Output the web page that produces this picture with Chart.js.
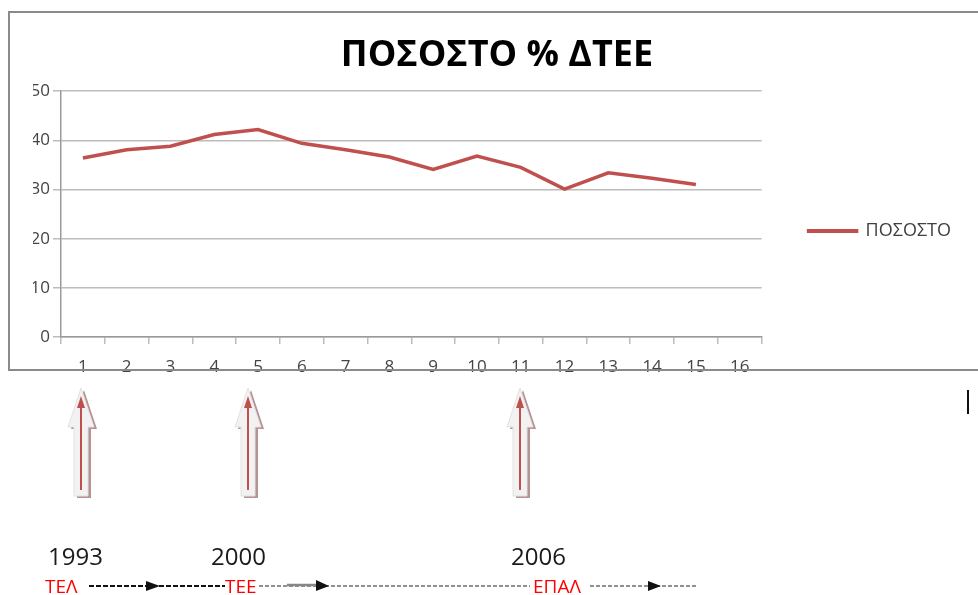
<!DOCTYPE html>
<html>
<head>
<meta charset="utf-8">
<script src="https://cdn.jsdelivr.net/npm/chart.js"></script>
<style>
  html, body { margin: 0; padding: 0; background: #fff; overflow: hidden; }
  body { width: 978px; height: 595px; position: relative; font-family: "Open Sans", sans-serif; }
  .frame {
    position: absolute; left: 8px; top: 11px; width: 980px; height: 360px; z-index: 2;
    border: 2px solid #8a8a8a; border-right: none; box-sizing: border-box; pointer-events: none;
  }
  .chart-box { position: absolute; left: 10px; top: 13px; width: 970px; height: 361px; }
  .year { position: absolute; top: 539px; font-size: 24px; color: #1a1a1a; }
  .school { position: absolute; top: 573px; font-size: 19px; color: #ff0000; }
  svg.notes { position: absolute; left: 0; top: 0; }
</style>
</head>
<body>
<div class="chart-box"><canvas id="lineChart"></canvas></div>
<div class="frame"></div>

<svg class="notes" width="978" height="595">
  <g id="arrows"></g>
  <!-- γραμμή χρόνου -->
  <line x1="89" y1="586" x2="225" y2="586" stroke="#111" stroke-width="2.2" stroke-dasharray="5 2"/>
  <polygon points="146,581 160,586 146,591" fill="#111"/>
  <line x1="259" y1="586" x2="530" y2="586" stroke="#222" stroke-width="1" stroke-dasharray="4 2"/>
  <line x1="287" y1="585" x2="318" y2="585" stroke="#888" stroke-width="2.5"/>
  <polygon points="316,580 329,586 316,591" fill="#111"/>
  <line x1="590" y1="586" x2="698" y2="586" stroke="#222" stroke-width="1" stroke-dasharray="4 2"/>
  <polygon points="648,581 661,586 648,591" fill="#111"/>
  <line x1="968" y1="390" x2="968" y2="414" stroke="#111" stroke-width="2"/>
</svg>

<div class="year" style="left:48px">1993</div>
<div class="year" style="left:211px">2000</div>
<div class="year" style="left:511px">2006</div>
<div class="school" style="left:45px">ΤΕΛ</div>
<div class="school" style="left:225px">ΤΕΕ</div>
<div class="school" style="left:533px">ΕΠΑΛ</div>

<script>
// δεδομένα
const labels = ['1', '2', '3', '4', '5', '6', '7', '8', '9', '10', '11', '12', '13', '14', '15', '16'];
const posostoValues = [36.4, 38.1, 38.8, 41.2, 42.2, 39.4, 38.1, 36.6, 34.1, 36.8, 34.5, 30.1, 33.4, 32.3, 31.0, null];
const seriesName = 'ΠΟΣΟΣΤΟ';
const chartTitle = 'ΠΟΣΟΣΤΟ % ΔΤΕΕ';
const arrowX = [81, 248, 520];

// βελάκια κάτω από το γράφημα
const arrowGroup = document.getElementById('arrows');
arrowX.forEach(function (cx) {
  const shape = function (dx, dy) {
    return [
      [cx, 388], [cx + 13, 427], [cx + 7, 427], [cx + 7, 496],
      [cx - 7, 496], [cx - 7, 427], [cx - 13, 427]
    ].map(p => (p[0] + dx) + ',' + (p[1] + dy)).join(' ');
  };
  arrowGroup.innerHTML +=
    '<polygon points="' + shape(3, 2) + '" fill="#b99393"/>' +
    '<polygon points="' + shape(0, 0) + '" fill="#f2f2f2" stroke="#e2e2e2" stroke-width="1"/>' +
    '<line x1="' + cx + '" y1="490" x2="' + cx + '" y2="404" stroke="#c0504d" stroke-width="2"/>' +
    '<polygon points="' + (cx - 4) + ',408 ' + (cx + 4) + ',408 ' + cx + ',396" fill="#c0504d"/>';
});

const gridColor = '#bcbcbc';
const tickColor = '#444';

let config = {
  type: 'line',
  data: {
    labels: labels,
    datasets: [{
      label: seriesName,
      data: posostoValues,
      borderColor: '#c0504d',
      backgroundColor: '#c0504d',
      borderWidth: 3.5,
      pointRadius: 0,
      tension: 0,
      spanGaps: false
    }]
  },
  options: {
    responsive: true,
    maintainAspectRatio: false,
    animation: false,
    layout: { padding: { left: 23, right: 19, top: 0, bottom: 0 } },
    plugins: {
      title: {
        display: true,
        text: chartTitle,
        color: '#000',
        font: { family: 'Open Sans', size: 36, weight: 'bold' },
        padding: { top: 21, bottom: 14 }
      },
      legend: {
        position: 'right',
        title: { display: true, text: ' ', font: { size: 10 }, padding: { top: 32, bottom: 31 } },
        labels: {
          color: '#404040',
          font: { family: 'Open Sans', size: 18 },
          boxWidth: 48,
          boxHeight: 0.5,
          padding: 47
        }
      },
      tooltip: { enabled: false }
    },
    scales: {
      x: {
        offset: true,
        grid: { offset: true, drawOnChartArea: false, color: gridColor, tickLength: 7, lineWidth: 1.5 },
        border: { color: '#9a9a9a', width: 1.5 },
        ticks: { color: tickColor, font: { family: 'Open Sans', size: 17 }, padding: 13, maxRotation: 0, autoSkip: false },
        afterFit: function (s) { s.height = 37; }
      },
      y: {
        min: 0,
        max: 50,
        ticks: { stepSize: 10, color: tickColor, font: { family: 'Open Sans', size: 17 }, padding: 3 },
        grid: { color: gridColor, tickLength: 8, lineWidth: 1.5 },
        border: { color: '#9a9a9a', width: 1.5 },
        afterFit: function (s) { s.width = 28; }
      }
    }
  }
};

let canvas = document.getElementById('lineChart');
let lineChart = new Chart(canvas, config);
</script>
</body>
</html>
